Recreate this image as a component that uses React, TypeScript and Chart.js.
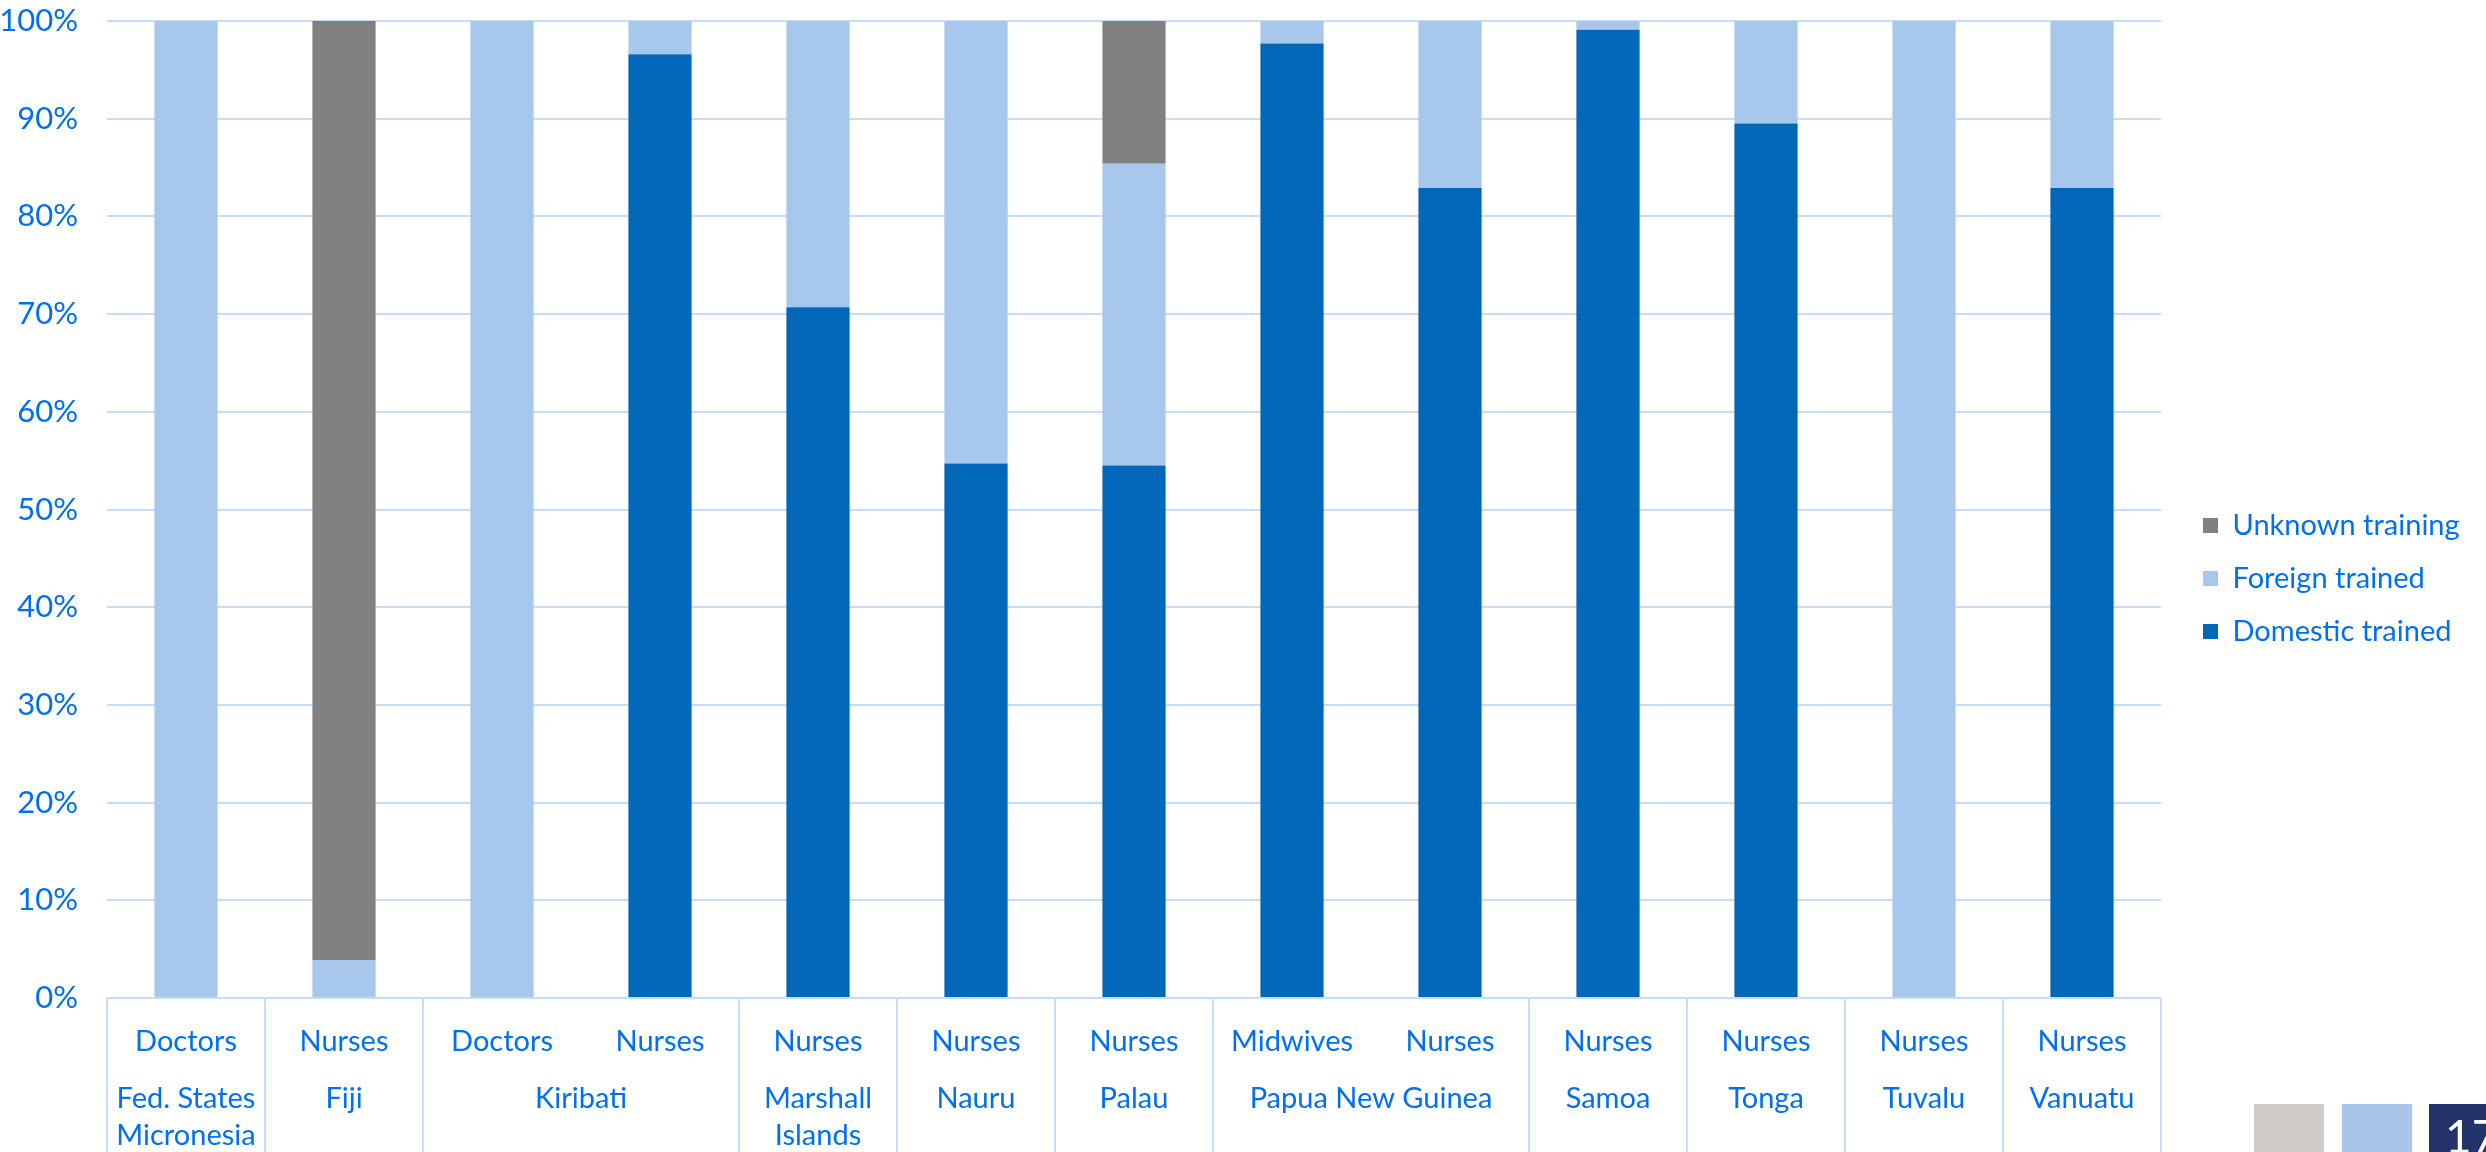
import React, { useEffect, useRef } from 'react';
import { Chart, registerables } from 'chart.js';

Chart.register(...registerables);

// ---------- data ----------
const subCategories = [
  'Doctors', 'Nurses', 'Doctors', 'Nurses', 'Nurses', 'Nurses', 'Nurses',
  'Midwives', 'Nurses', 'Nurses', 'Nurses', 'Nurses', 'Nurses',
];
const countryNames: string[][] = [
  ['Fed. States', 'Micronesia'], ['Fiji'], ['Kiribati'], ['Marshall', 'Islands'],
  ['Nauru'], ['Palau'], ['Papua New Guinea'], ['Samoa'], ['Tonga'], ['Tuvalu'], ['Vanuatu'],
];
const countrySpans = [1, 1, 2, 1, 1, 1, 2, 1, 1, 1, 1];

const domesticTrained = [0, 0, 0, 96.6, 70.7, 54.7, 54.5, 97.7, 82.9, 99.1, 89.5, 0, 82.9];
const foreignTrained = [100, 3.9, 100, 3.4, 29.3, 45.3, 30.9, 2.3, 17.1, 0.9, 10.5, 100, 17.1];
const unknownTraining = [0, 96.1, 0, 0, 0, 0, 14.6, 0, 0, 0, 0, 0, 0];

const seriesLabels = ['Domestic trained', 'Foreign trained', 'Unknown training'];

// ---------- style ----------
const W = 2486;
const H = 1152;
const TEXT = '#0070F0';
const GRID = '#C6DDF9';
const FONT = 'Lato, "Open Sans", sans-serif';
const COLORS = ['#0067B9', '#A8C7EC', '#808080'];
const PLOT_LEFT = 107;
const PLOT_RIGHT = 2161;
const PLOT_BOTTOM_AXIS_H = 154;
const LEGEND_BOX_X = 2203;
const LEGEND_TOP_SHIFT = -16;

const groupPlugin = {
  id: 'groupLabels',
  afterDraw(chart: any) {
    const { ctx, chartArea } = chart;
    const x = chart.scales.x;
    const bottom = chartArea.bottom;
    const half = (x.getPixelForValue(1) - x.getPixelForValue(0)) / 2;
    ctx.save();
    const bounds: number[] = [x.getPixelForValue(0) - half];
    let start = 0;
    ctx.fillStyle = TEXT;
    ctx.font = `29px ${FONT}`;
    ctx.textAlign = 'center';
    ctx.textBaseline = 'alphabetic';
    countrySpans.forEach((span, gi) => {
      const end = start + span - 1;
      const cx = (x.getPixelForValue(start) + x.getPixelForValue(end)) / 2;
      countryNames[gi].forEach((line, li) => {
        ctx.fillText(line, cx, bottom + 110 + li * 37);
      });
      bounds.push(x.getPixelForValue(end) + half);
      start += span;
    });
    ctx.strokeStyle = GRID;
    ctx.lineWidth = 2;
    bounds.forEach((bx) => {
      const px = Math.round(bx);
      ctx.beginPath();
      ctx.moveTo(px, bottom);
      ctx.lineTo(px, chart.height);
      ctx.stroke();
    });
    ctx.restore();
  },
};

const legendShift = {
  id: 'legendShift',
  afterLayout(chart: any) {
    const lg = chart.legend;
    if (!lg) return;
    const pad = lg.options.labels.padding;
    const dx = LEGEND_BOX_X - (lg.left + pad);
    lg.left += dx;
    lg.right += dx;
    lg.top += LEGEND_TOP_SHIFT;
  },
};

export default function App() {
  const ref = useRef<HTMLCanvasElement | null>(null);

  useEffect(() => {
    if (!ref.current) return;
    const values = [domesticTrained, foreignTrained, unknownTraining];
    const chart = new Chart(ref.current, {
      type: 'bar',
      data: {
        labels: subCategories,
        datasets: values.map((d, i) => ({
          label: seriesLabels[i],
          data: d,
          backgroundColor: COLORS[i],
          borderWidth: 0,
          barPercentage: 0.5,
          categoryPercentage: 0.8,
        })),
      },
      options: {
        responsive: false,
        animation: false,
        devicePixelRatio: 1,
        layout: { padding: { top: 21, left: 0, right: 0, bottom: 0 } },
        plugins: {
          tooltip: { enabled: false },
          title: { display: false },
          legend: {
            position: 'right',
            reverse: true,
            labels: {
              color: TEXT,
              font: { family: FONT, size: 29 },
              boxWidth: 15,
              boxHeight: 15,
              padding: 24,
            },
          },
        },
        scales: {
          x: {
            stacked: true,
            grid: { display: false },
            border: { display: false },
            ticks: {
              color: TEXT,
              font: { family: FONT, size: 29 },
              padding: 18,
              autoSkip: false,
              maxRotation: 0,
              minRotation: 0,
            },
            afterFit(s: any) {
              s.height = PLOT_BOTTOM_AXIS_H;
            },
          },
          y: {
            stacked: true,
            min: 0,
            max: 100,
            grid: { color: GRID, lineWidth: 2, drawTicks: false },
            border: { display: false },
            ticks: {
              stepSize: 10,
              color: TEXT,
              font: { family: FONT, size: 31 },
              padding: 29,
              callback: (v: any) => `${v}%`,
            },
            afterFit(s: any) {
              s.width = PLOT_LEFT;
              s.paddingTop = 0;
              s.paddingBottom = 0;
            },
          },
        },
      },
      plugins: [groupPlugin, legendShift],
    } as any);
    const lw = chart.legend ? chart.legend.width : 0;
    (chart.options.layout as any).padding.right = Math.max(0, W - PLOT_RIGHT - lw);
    chart.update();
    return () => chart.destroy();
  }, []);

  return (
    <div style={{ position: 'fixed', left: 0, top: 0, width: W, height: H, background: '#fff', overflow: 'hidden' }}>
      <canvas ref={ref} width={W} height={H} style={{ width: W, height: H, display: 'block' }} />
      <div style={{ position: 'absolute', left: 2254, top: 1104, width: 70, height: 48, background: '#CFCCC8' }} />
      <div style={{ position: 'absolute', left: 2342, top: 1104, width: 70, height: 48, background: '#A9C6E9' }} />
      <div style={{ position: 'absolute', left: 2429, top: 1104, width: 57, height: 48, background: '#22336A', overflow: 'hidden' }}>
        <span style={{ position: 'absolute', left: 16, top: 4, color: '#fff', fontFamily: FONT, fontSize: 46, lineHeight: '56px' }}>17</span>
      </div>
    </div>
  );
}
